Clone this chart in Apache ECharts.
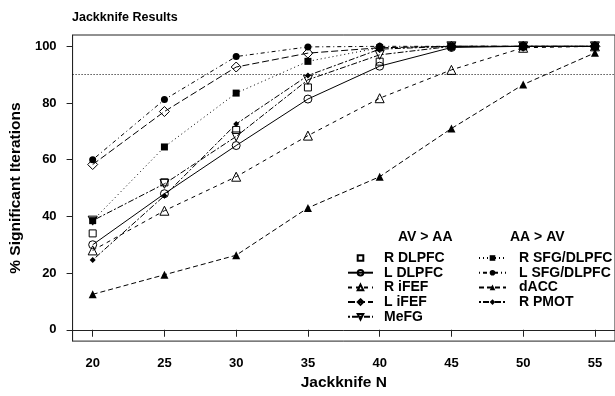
<!DOCTYPE html>
<html><head><meta charset="utf-8">
<script src="https://cdn.jsdelivr.net/npm/echarts@6/dist/echarts.min.js"></script>
<style>html,body{margin:0;padding:0;background:#fff}#c{width:615px;height:396px}</style>
</head><body><div id="c"></div>
<script>
// ---- data ----
const jackknifeN = [20, 25, 30, 35, 40, 45, 50, 55];
const xTicks = [20, 25, 30, 35, 40, 45, 50, 55];
const yTicks = [0, 20, 40, 60, 80, 100];
const thresholdLine = 90;

const seriesNames = ['R DLPFC', 'L DLPFC', 'R iFEF', 'L iFEF', 'MeFG',
                     'R SFG/DLPFC', 'L SFG/DLPFC', 'dACC', 'R PMOT'];
const rDLPFC   = [34, 52, 70.5, 85.5, 94.6, 100, 100, 100];
const lDLPFC   = [30, 48, 65, 81.4, 93, 99.6, 100, 100];
const rIFEF    = [28, 42, 54, 68.5, 81.7, 91.7, 99.5, 100];
const lIFEF    = [58.3, 77, 92.7, 97.6, 99.5, 100, 100, 100];
const meFG     = [38.5, 51.5, 68.2, 88.2, 97, 100, 100, 100];
const rSFG     = [38.5, 64.5, 83.5, 94.7, 99.5, 100, 100, 100];
const lSFG     = [60, 81.2, 96.4, 99.8, 100, 100, 100, 100];
const dACC     = [12.5, 19.4, 26.3, 43, 54, 71, 86.5, 97.7];
const rPMOT    = [24.6, 47.3, 72.6, 89.7, 99, 100, 100, 100];
const allValues = [rDLPFC, lDLPFC, rIFEF, lIFEF, meFG, rSFG, lSFG, dACC, rPMOT];

// ---- styles ----
const FONT = "'Liberation Sans', Arial, Helvetica, sans-serif";
const styles = [
  {symbol: 'rect',     hollow: true,  size: 7,  dash: 'solid', noLine: true},
  {symbol: 'circle',   hollow: true,  size: 8,  dash: 'solid'},
  {symbol: 'triangle', hollow: true,  size: 9,  dash: [4, 4]},
  {symbol: 'diamond',  hollow: true,  size: 10, dash: [7, 3]},
  {symbol: 'triangle', hollow: true,  size: 9,  dash: [2, 2, 6, 2], rotate: 180},
  {symbol: 'rect',     hollow: false, size: 7,  dash: [1, 3]},
  {symbol: 'circle',   hollow: false, size: 7,  dash: [1, 3, 4, 3]},
  {symbol: 'triangle', hollow: false, size: 8,  dash: [5, 3]},
  {symbol: 'diamond',  hollow: false, size: 6,  dash: [2, 2, 6, 2]}
];

const series = seriesNames.map((name, i) => {
  const st = styles[i];
  const s = {
    name: name,
    type: 'line',
    data: jackknifeN.map((x, j) => [x, allValues[i][j]]),
    symbol: st.symbol,
    symbolSize: st.size,
    symbolRotate: st.rotate || 0,
    showAllSymbol: true,
    lineStyle: {color: '#000', width: 1, type: st.dash, opacity: st.noLine ? 0 : 1},
    itemStyle: st.hollow
      ? {color: 'rgba(255,255,255,0)', borderColor: '#000', borderWidth: 1}
      : {color: '#000', borderColor: '#000', borderWidth: 0},
    emphasis: {disabled: true},
    z: 3
  };
  if (i === 0) {
    s.markLine = {
      silent: true, symbol: 'none', animation: false,
      label: {show: false},
      lineStyle: {color: '#000', width: 1, type: [1, 2]},
      data: [{yAxis: thresholdLine}]
    };
  }
  return s;
});

const legendText = {fontFamily: FONT, fontWeight: 'bold', fontSize: 14, color: '#000'};

const option = {
  animation: false,
  backgroundColor: '#fff',
  title: {
    text: 'Jackknife Results', left: 67, top: 6,
    textStyle: {fontFamily: FONT, fontWeight: 'bold', fontSize: 12.5, color: '#000'}
  },
  grid: {left: 71, top: 35, width: 546, height: 307, show: true,
         borderColor: '#222', borderWidth: 1, containLabel: false},
  xAxis: {
    type: 'value', min: 18.6, max: 56.4,
    name: 'Jackknife N', nameLocation: 'middle', nameGap: 32,
    nameTextStyle: {fontFamily: FONT, fontWeight: 'bold', fontSize: 15.5, color: '#000'},
    axisLine: {show: true, lineStyle: {color: '#222', width: 1}},
    axisTick: {show: true, length: 7, customValues: xTicks, lineStyle: {color: '#222'}},
    axisLabel: {customValues: xTicks, margin: 16, fontFamily: FONT, fontWeight: 'bold', fontSize: 13, color: '#000'},
    splitLine: {show: false}
  },
  yAxis: {
    type: 'value', min: -4, max: 104,
    name: '% Significant Iterations', nameLocation: 'middle', nameGap: 47, nameRotate: 90,
    nameTextStyle: {fontFamily: FONT, fontWeight: 'bold', fontSize: 15.5, color: '#000'},
    axisLine: {show: true, lineStyle: {color: '#222', width: 1}},
    axisTick: {show: true, length: 6, customValues: yTicks, lineStyle: {color: '#222'}},
    axisLabel: {customValues: yTicks, margin: 16, fontFamily: FONT, fontWeight: 'bold', fontSize: 13, color: '#000'},
    splitLine: {show: false}
  },
  legend: [
    {
      data: seriesNames.slice(0, 5), orient: 'vertical', left: 342, top: 246,
      itemWidth: 25, itemHeight: 7, itemGap: 0.7, selectedMode: false,
      textStyle: Object.assign({lineHeight: 14, padding: [0, 0, 0, 6]}, legendText)
    },
    {
      data: seriesNames.slice(5), orient: 'vertical', left: 473, top: 246,
      itemWidth: 27, itemHeight: 7, itemGap: 0.7, selectedMode: false,
      textStyle: Object.assign({lineHeight: 14, padding: [0, 0, 0, 8]}, legendText)
    }
  ],
  graphic: [
    {type: 'text', left: 398, top: 230, style: {text: 'AV > AA', font: "bold 14px " + FONT, fill: '#000'}},
    {type: 'text', left: 510, top: 230, style: {text: 'AA > AV', font: "bold 14px " + FONT, fill: '#000'}}
  ],
  series: series
};

const chart = echarts.init(document.getElementById('c'), null, {renderer: 'canvas'});
chart.setOption(option);
</script>
</body></html>
